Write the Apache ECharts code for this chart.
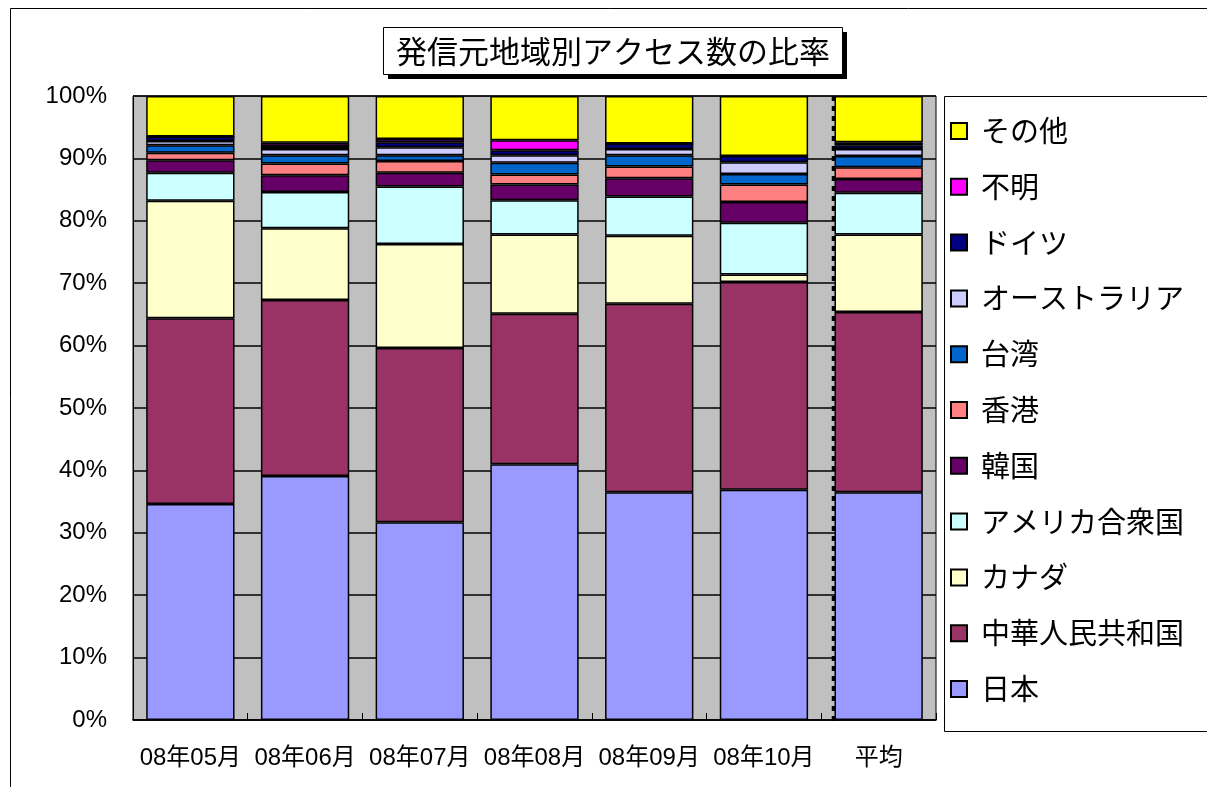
<!DOCTYPE html>
<html>
<head>
<meta charset="utf-8">
<script src="https://cdn.jsdelivr.net/npm/echarts@6/dist/echarts.min.js"></script>
<style>
  html, body { margin: 0; padding: 0; background: #fff; }
  #chart { width: 1207px; height: 787px; }
</style>
</head>
<body>
<div id="chart"></div>
<script>
// Months plus the overall average
const categories = ['08年05月', '08年06月', '08年07月', '08年08月', '08年09月', '08年10月', '平均'];

// Share of accesses per origin region (%), stacked bottom to top
const japan     = [34.6, 39.1, 31.7, 41.0, 36.5, 36.9, 36.5];
const china     = [29.8, 28.2, 27.9, 24.1, 30.2, 33.3, 28.9];
const canada    = [18.8, 11.5, 16.7, 12.7, 10.9, 1.2, 12.4];
const usa       = [4.5, 5.8, 9.2, 5.5, 6.3, 8.3, 6.7];
const korea     = [2.0, 2.7, 2.2, 2.5, 2.9, 3.3, 2.2];
const hongkong  = [1.2, 1.9, 1.9, 1.6, 1.9, 2.8, 1.9];
const taiwan    = [1.2, 1.3, 0.9, 1.9, 1.8, 1.7, 1.8];
const australia = [0.7, 1.0, 1.3, 1.2, 1.0, 1.9, 1.1];
const germany   = [0.7, 0.5, 0.8, 0.8, 0.9, 1.0, 0.6];
const unknown   = [0.0, 0.5, 0.5, 1.6, 0.0, 0.0, 0.5];
const others    = [6.5, 7.5, 6.9, 7.1, 7.6, 9.6, 7.4];

const yTicks = [0, 10, 20, 30, 40, 50, 60, 70, 80, 90, 100];

const seriesDefs = [
  { name: '日本', data: japan, color: '#9999FF' },
  { name: '中華人民共和国', data: china, color: '#993366' },
  { name: 'カナダ', data: canada, color: '#FFFFCC' },
  { name: 'アメリカ合衆国', data: usa, color: '#CCFFFF' },
  { name: '韓国', data: korea, color: '#660066' },
  { name: '香港', data: hongkong, color: '#FF8080' },
  { name: '台湾', data: taiwan, color: '#0066CC' },
  { name: 'オーストラリア', data: australia, color: '#CCCCFF' },
  { name: 'ドイツ', data: germany, color: '#000080' },
  { name: '不明', data: unknown, color: '#FF00FF' },
  { name: 'その他', data: others, color: '#FFFF00' }
];

const chart = echarts.init(document.getElementById('chart'), null, { renderer: 'canvas' });

const gridLeft = 133, gridTop = 96, gridRight = 271, gridBottom = 67;

const option = {
  animation: false,
  backgroundColor: '#ffffff',
  grid: {
    left: gridLeft, top: gridTop, right: gridRight, bottom: gridBottom,
    show: true, backgroundColor: '#C0C0C0', borderColor: '#000', borderWidth: 1
  },
  legend: {
    orient: 'vertical',
    left: 950,
    top: 116,
    padding: 0,
    itemWidth: 16,
    itemHeight: 16,
    itemGap: 25.8,
    icon: 'rect',
    data: seriesDefs.map(s => s.name).reverse(),
    textStyle: {
      fontFamily: '"Noto Sans CJK JP", sans-serif',
      fontSize: 29,
      lineHeight: 30,
      color: '#000',
      padding: [0, 0, 0, 9]
    },
    selectedMode: false
  },
  xAxis: {
    type: 'category',
    data: categories,
    axisLine: { show: true, lineStyle: { color: '#000', width: 1.5 } },
    axisTick: { show: true, inside: true, length: 7, lineStyle: { color: '#000' } },
    axisLabel: {
      interval: 0,
      hideOverlap: false,
      margin: 26,
      fontSize: 24,
      color: '#000',
      fontFamily: '"Liberation Sans", "Noto Sans CJK JP", sans-serif'
    }
  },
  yAxis: {
    type: 'value',
    min: yTicks[0],
    max: yTicks[yTicks.length - 1],
    interval: 10,
    axisLine: { show: true, lineStyle: { color: '#000' } },
    axisTick: { show: false },
    splitLine: { show: true, lineStyle: { color: '#000', width: 1.5 } },
    axisLabel: {
      margin: 26,
      fontSize: 24,
      color: '#000',
      fontFamily: '"Liberation Sans", Arial, sans-serif',
      formatter: v => v + '%'
    }
  },
  series: seriesDefs.map(s => ({
    name: s.name,
    type: 'bar',
    stack: 'share',
    data: s.data,
    barCategoryGap: '23%',
    itemStyle: { color: s.color, borderColor: '#000', borderWidth: 1.5 },
    emphasis: { disabled: true }
  }))
};

chart.setOption(option);

// Frame, title box, legend box and the divider before the average bar
function drawDecorations() {
  const c5 = chart.convertToPixel({ xAxisIndex: 0 }, categories[5]);
  const c6 = chart.convertToPixel({ xAxisIndex: 0 }, categories[6]);
  const band = c6 - c5;
  const barW = band * 0.77;
  const dividerX = c6 - barW / 2 - 1;
  const yTop = chart.convertToPixel({ yAxisIndex: 0 }, 100);
  const yBot = chart.convertToPixel({ yAxisIndex: 0 }, 0);

  chart.setOption({
    graphic: [
      {
        type: 'rect', silent: true, z: -10,
        shape: { x: 10.5, y: 8.5, width: 1400, height: 1000 },
        style: { fill: null, stroke: '#000', lineWidth: 1 }
      },
      {
        type: 'rect', silent: true, z: 0,
        shape: { x: 944.5, y: 96.5, width: 320, height: 635 },
        style: { fill: '#fff', stroke: '#000', lineWidth: 1 }
      },
      {
        type: 'rect', silent: true, z: 10,
        shape: { x: 388, y: 32, width: 459, height: 47 },
        style: { fill: '#000' }
      },
      {
        type: 'rect', silent: true, z: 11,
        shape: { x: 383.5, y: 27.5, width: 459, height: 47 },
        style: { fill: '#fff', stroke: '#000', lineWidth: 1 }
      },
      {
        type: 'text', silent: true, z: 12,
        x: 613, y: 51,
        style: {
          text: '発信元地域別アクセス数の比率',
          fill: '#000',
          font: '31px "Noto Sans CJK JP", sans-serif',
          align: 'center',
          verticalAlign: 'middle'
        }
      },
      {
        type: 'line', silent: true, z: 100,
        shape: { x1: dividerX, y1: yTop, x2: dividerX, y2: yBot + 5 },
        style: { stroke: '#000', lineWidth: 3.5, lineDash: [5, 5] }
      }
    ]
  });
}
drawDecorations();
</script>
</body>
</html>
